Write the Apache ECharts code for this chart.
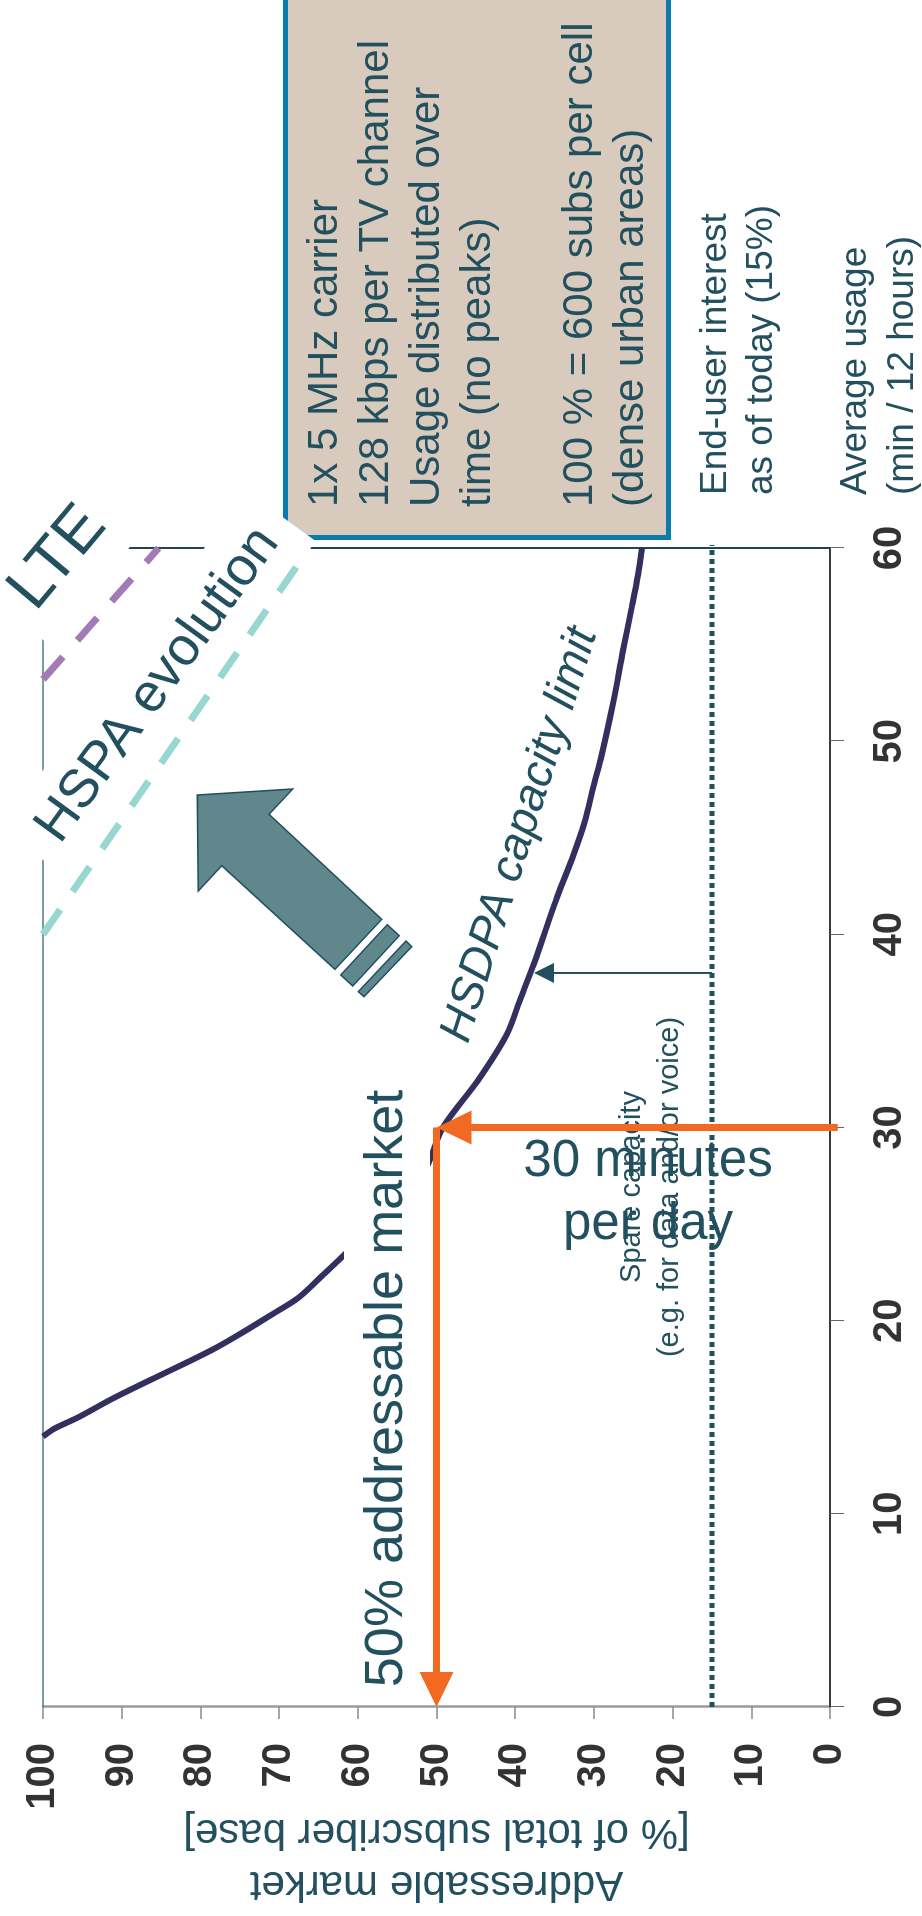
<!DOCTYPE html>
<html>
<head>
<meta charset="utf-8">
<script src="https://cdn.jsdelivr.net/npm/echarts@6/dist/echarts.min.js"></script>
<style>
  html, body { margin: 0; padding: 0; width: 922px; height: 1916px; overflow: hidden; background: #ffffff; }
  /* the chart is laid out landscape and turned a quarter turn counter-clockwise */
  #chart { position: absolute; left: 0; top: 0; width: 1916px; height: 922px;
           transform-origin: 0 0; transform: translateY(1916px) rotate(-90deg); }
</style>
</head>
<body>
<div id="chart"></div>
<script>
// HSDPA capacity limit: [average usage (min / 12 h), addressable market (%)]
const capacityLimit = [
  [14.0, 100], [14.4, 98.6], [15.0, 95.5], [16.0, 91.0], [17.0, 86.0], [17.9, 81.4],
  [18.6, 78.0], [19.4, 74.6], [20.3, 71.0], [21.2, 67.5], [22.3, 64.6], [23.3, 62.0],
  [24.5, 59.0], [26.0, 55.3], [27.0, 53.2], [28.0, 51.2], [30.0, 49.2], [32.4, 44.8],
  [34.8, 41.1], [36.7, 39.3], [38.5, 37.6], [41.9, 34.7], [44.1, 32.6], [45.9, 31.1],
  [47.6, 30.1], [49.3, 29.0], [52.1, 27.5], [54.7, 26.3], [56.9, 25.2], [58.6, 24.4],
  [60.0, 23.9]
];
// evolution paths beyond the HSDPA limit
const hspaEvolution = [[40, 100], [59.5, 67]];
const lteEvolution = [[53.2, 100], [60, 85.3]];
// end-user interest as of today
const interestShare = 15;
const interestLine = [[0, interestShare], [61, interestShare]];
// worked example: 30 minutes per day -> 50% addressable market
const chosenUsage = 30;
const addressableShare = 50;
const readoutArrows = [
  [chosenUsage, -1, chosenUsage, addressableShare],
  [chosenUsage, addressableShare, 0, addressableShare]
];
// spare capacity between today's interest and the capacity limit
const spareArrow = [[38, interestShare, 38, 37.6]];

const usageRange = [0, 60, 10];
const marketRange = [0, 100, 10];

const FONT = '"Liberation Sans", Arial, Helvetica, sans-serif';
const INK = '#22505F';

const infoLines = [
  '1x 5 MHz carrier',
  '128 kbps per TV channel',
  'Usage distributed over',
  'time (no peaks)',
  '',
  '100 % = 600 subs per cell',
  '(dense urban areas)'
];

function arrowRenderer(color, width, headLen, headWid) {
  return function (params, api) {
    const a = api.coord([api.value(0), api.value(1)]);
    const b = api.coord([api.value(2), api.value(3)]);
    const dx = b[0] - a[0], dy = b[1] - a[1];
    const len = Math.hypot(dx, dy) || 1;
    const ux = dx / len, uy = dy / len;
    const bx = b[0] - ux * headLen, by = b[1] - uy * headLen;
    const px = -uy * headWid / 2, py = ux * headWid / 2;
    return {
      type: 'group',
      children: [
        { type: 'line', shape: { x1: a[0], y1: a[1], x2: bx + ux * 2, y2: by + uy * 2 },
          style: { stroke: color, lineWidth: width } },
        { type: 'polygon', shape: { points: [[b[0], b[1]], [bx + px, by + py], [bx - px, by - py]] },
          style: { fill: color } }
      ]
    };
  };
}

const chart = echarts.init(document.getElementById('chart'), null, { renderer: 'canvas', width: 1916, height: 922 });

chart.setOption({
  animation: false,
  backgroundColor: '#ffffff',
  grid: { left: 209, right: 548, top: 43, bottom: 92, outerBoundsMode: 'none' },
  xAxis: [
    {
      type: 'value', min: usageRange[0], max: usageRange[1], interval: usageRange[2], position: 'bottom',
      axisLine: { show: true, onZero: false, lineStyle: { color: '#3a3a3a', width: 2 } },
      axisTick: { show: true, length: 14, lineStyle: { color: '#666666', width: 1 } },
      axisLabel: { margin: 40, fontSize: 40, fontWeight: 'bold', color: '#333333', fontFamily: FONT },
      splitLine: { show: false },
      name: 'Average usage\n(min / 12 hours)', nameLocation: 'end', nameGap: 53, nameMoveOverlap: false,
      nameTextStyle: { fontSize: 37, color: INK, fontFamily: FONT, align: 'left', verticalAlign: 'top',
                       lineHeight: 47, padding: [2, 0, 0, 0] }
    },
    {
      type: 'value', min: usageRange[0], max: usageRange[1], position: 'top',
      axisLine: { show: true, onZero: false, lineStyle: { color: '#4f7c87', width: 1.5 } },
      axisTick: { show: false }, axisLabel: { show: false }, splitLine: { show: false }
    }
  ],
  yAxis: [
    {
      type: 'value', min: marketRange[0], max: marketRange[1], interval: marketRange[2], position: 'left',
      axisLine: { show: true, onZero: false, lineStyle: { color: '#9a9a9a', width: 2.5 } },
      axisTick: { show: true, length: 12, lineStyle: { color: '#8a8a8a', width: 1.5 } },
      axisLabel: { margin: 36, fontSize: 40, fontWeight: 'bold', color: '#333333', fontFamily: FONT },
      splitLine: { show: false },
      name: 'Addressable market\n[% of total subscriber base]', nameLocation: 'middle', nameGap: 99, nameRotate: 90,
      nameMoveOverlap: false,
      nameTextStyle: { fontSize: 42, lineHeight: 52, color: INK, fontFamily: FONT }
    },
    {
      type: 'value', min: marketRange[0], max: marketRange[1], position: 'right',
      axisLine: { show: true, onZero: false, lineStyle: { color: '#1f4455', width: 2 } },
      axisTick: { show: false }, axisLabel: { show: false }, splitLine: { show: false }
    }
  ],
  series: [
    {
      name: 'HSDPA capacity limit', type: 'line', data: capacityLimit, z: 20,
      showSymbol: false, smooth: 0.3,
      lineStyle: { color: '#33305f', width: 6 }
    },
    {
      name: 'HSPA evolution', type: 'line', data: hspaEvolution, z: 20, showSymbol: false, clip: false,
      lineStyle: { color: '#97d6d1', width: 7, type: [30, 22] }
    },
    {
      name: 'LTE', type: 'line', data: lteEvolution, z: 20, showSymbol: false, clip: false,
      lineStyle: { color: '#a27ab6', width: 7, type: [30, 22] }
    },
    {
      name: 'End-user interest', type: 'line', data: interestLine, z: 20, showSymbol: false, clip: false,
      lineStyle: { color: INK, width: 5, type: [5, 4] }
    },
    {
      name: 'Spare capacity', type: 'custom', data: spareArrow, z: 25, clip: false,
      encode: { x: [0, 2], y: [1, 3] },
      renderItem: arrowRenderer(INK, 2, 20, 20)
    },
    {
      name: 'Readout', type: 'custom', data: readoutArrows, z: 40, clip: false,
      encode: { x: [0, 2], y: [1, 3] },
      renderItem: arrowRenderer('#f26a22', 7, 35, 34)
    }
  ],
  graphic: [
    {
      type: 'rect', z: 1,
      shape: { x: 1378.5, y: 285.5, width: 600, height: 383 },
      style: { fill: '#d8cabc', stroke: '#0b7bae', lineWidth: 5 }
    },
    {
      type: 'text', z: 2, x: 1409, y: 299.5,
      style: { text: infoLines.join('\n'), fontSize: 42, fontFamily: FONT, fill: INK,
               lineHeight: 51, align: 'left', verticalAlign: 'top' }
    },
    {
      type: 'text', z: 2, x: 1421, y: 693,
      style: { text: 'End-user interest\nas of today (15%)', fontSize: 37, fontFamily: FONT, fill: INK,
               lineHeight: 46, align: 'left', verticalAlign: 'top' }
    },
    {
      type: 'group', z: 5,
      children: [
        { type: 'polygon', z: 5,
          shape: { points: [[1121, 197.3], [1127, 292.7], [1101.7, 269], [996.7, 381.7], [946.7, 335], [1050.3, 221.7], [1025, 198.3]] },
          style: { fill: '#5f878c', stroke: '#1f4e5f', lineWidth: 1.5 } },
        { type: 'polygon', z: 5,
          shape: { points: [[941, 340.7], [991.3, 387.3], [980.3, 399.3], [930, 352.7]] },
          style: { fill: '#5f878c', stroke: '#1f4e5f', lineWidth: 1.5 } },
        { type: 'polygon', z: 5,
          shape: { points: [[924.3, 358.3], [975, 406], [969.3, 411.7], [919.3, 364]] },
          style: { fill: '#5f878c', stroke: '#1f4e5f', lineWidth: 1.5 } }
      ]
    },
    {
      type: 'text', z: 10, x: 1081, y: 520, rotation: -17.4 * Math.PI / 180,
      style: { text: 'HSDPA capacity limit', fontSize: 46, fontStyle: 'italic', fontFamily: FONT, fill: INK,
               align: 'center', verticalAlign: 'middle' }
    },
    {
      type: 'text', z: 10, x: 1231, y: 158, rotation: -36 * Math.PI / 180,
      style: { text: 'HSPA evolution', fontSize: 54, fontFamily: FONT, fill: INK, lineHeight: 54,
               align: 'center', verticalAlign: 'middle', backgroundColor: '#ffffff', padding: [17, 22, 15, 22] }
    },
    {
      type: 'text', z: 10, x: 1358, y: 58, rotation: -40 * Math.PI / 180,
      style: { text: 'LTE', fontSize: 64, fontFamily: FONT, fill: INK, lineHeight: 64,
               align: 'center', verticalAlign: 'middle', backgroundColor: '#ffffff', padding: [8, 16, 24, 16] }
    },
    {
      type: 'text', z: 30, x: 527.5, y: 387,
      style: { text: '50% addressable market', fontSize: 54, fontFamily: FONT, fill: INK, lineHeight: 60,
               align: 'center', verticalAlign: 'middle', backgroundColor: '#ffffff', padding: [15, 10, 11, 10] }
    },
    {
      type: 'text', z: 30, x: 723, y: 648, rotation: -Math.PI / 2,
      style: { text: '30 minutes\nper day', fontSize: 51, fontFamily: FONT, fill: INK, lineHeight: 63,
               align: 'center', verticalAlign: 'middle' }
    },
    {
      type: 'text', z: 30, x: 729, y: 651,
      style: { text: 'Spare capacity\n(e.g. for data and/or voice)', fontSize: 29, fontFamily: FONT, fill: INK,
               lineHeight: 38, align: 'center', verticalAlign: 'middle' }
    }
  ]
});
</script>
</body>
</html>
